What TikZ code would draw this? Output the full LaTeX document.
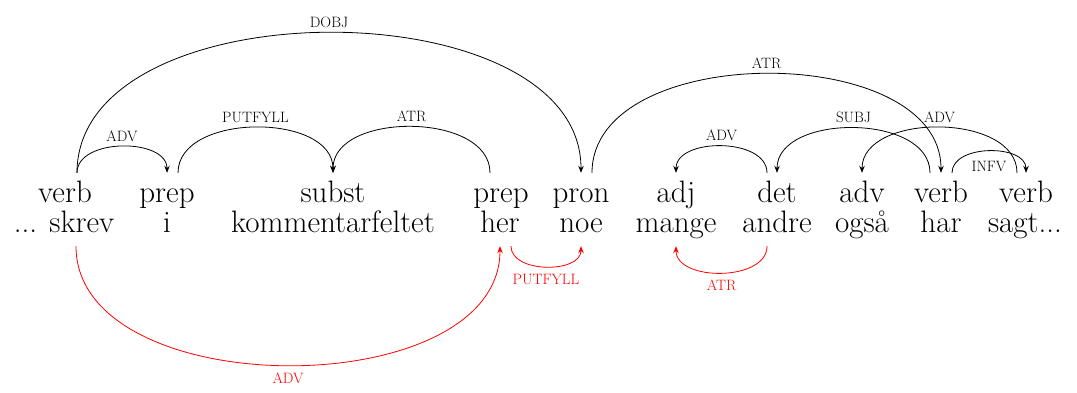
\documentclass[tikz,border=0pt]{standalone}
\usetikzlibrary{arrows.meta}
\begin{document}
\begin{tikzpicture}[x=1pt,y=1pt,
  tag/.style={anchor=base, font=\fontsize{31}{31}\selectfont, text height=22pt, inner ysep=8pt, inner xsep=0pt},
  word/.style={anchor=base, font=\fontsize{31}{31}\selectfont, text depth=7pt, inner ysep=6pt, inner xsep=0pt},
  dep/.style={line width=0.8pt, -{Stealth[length=7pt,width=5.5pt]}},
  lowdep/.style={dep, red},
  lab/.style={font=\fontsize{15}{15}\selectfont, inner sep=0pt, text depth=0pt},
]
\useasboundingbox (0,0) rectangle (1077,-393);

% part-of-speech row
\node[tag] (t1)  at (65,-203)   {verb};
\node[tag] (t2)  at (167,-203)  {prep};
\node[tag] (t3)  at (333,-203)  {subst};
\node[tag] (t4)  at (501,-203)  {prep};
\node[tag] (t5)  at (581,-203)  {pron};
\node[tag] (t6)  at (676,-203)  {adj};
\node[tag] (t7)  at (777,-203)  {det};
\node[tag] (t8)  at (862,-203)  {adv};
\node[tag] (t9)  at (941,-203)  {verb};
\node[tag] (t10) at (1026,-203) {verb};

% word row
\node[word] (w1)  at (64,-233)   {... skrev};
\node[word] (w2)  at (167,-233)  {i};
\node[word] (w3)  at (333,-233)  {kommentarfeltet};
\node[word] (w4)  at (500,-233)  {her};
\node[word] (w5)  at (581,-233)  {noe};
\node[word] (w6)  at (676,-233)  {mange};
\node[word] (w7)  at (777,-233)  {andre};
\node[word] (w8)  at (862,-233)  {også};
\node[word] (w9)  at (941,-233)  {har};
\node[word] (w10) at (1025,-233) {sagt...};

% dependencies above the sentence
\draw[dep] ([xshift=12pt]t1.north) to[out=90,in=90,looseness=0.95] node[midway,above=5pt,lab]{DOBJ} (t5.north);
\draw[dep] ([xshift=12pt]t1.north) to[out=90,in=90] node[midway,above=5pt,lab]{ADV} (t2.north);
\draw[dep] ([xshift=11pt]t2.north) to[out=90,in=90] node[midway,above=5pt,lab]{PUTFYLL} (t3.north);
\draw[dep] ([xshift=-11pt]t4.north) to[out=90,in=90] node[midway,above=5pt,lab]{ATR} (t3.north);
\draw[dep] ([xshift=11pt]t5.north) to[out=90,in=90,looseness=0.97] node[midway,above=5pt,lab]{ATR} (t9.north);
\draw[dep] ([xshift=-10pt]t7.north) to[out=90,in=90] node[midway,above=5pt,lab]{ADV} (t6.north);
\draw[dep] ([xshift=-11pt]t9.north) to[out=90,in=90] node[midway,above=5pt,lab]{SUBJ} (t7.north);
\draw[dep] ([xshift=-9pt]t10.north) to[out=90,in=90] node[midway,above=5pt,lab]{ADV} (t8.north);
\draw[dep] ([xshift=11pt]t9.north) to[out=90,in=90] node[midway,below=10pt,lab]{INFV} (t10.north);

% dependencies below the sentence
\draw[lowdep] ([xshift=12pt]w1.south) to[out=-90,in=-90,looseness=0.96] node[midway,below=7pt,lab,text=red]{ADV} (w4.south);
\draw[lowdep] ([xshift=11pt]w4.south) to[out=-90,in=-90] node[midway,below=7pt,lab,text=red]{PUTFYLL} (w5.south);
\draw[lowdep] ([xshift=-10pt]w7.south) to[out=-90,in=-90] node[midway,below=7pt,lab,text=red]{ATR} (w6.south);
\end{tikzpicture}
\end{document}
